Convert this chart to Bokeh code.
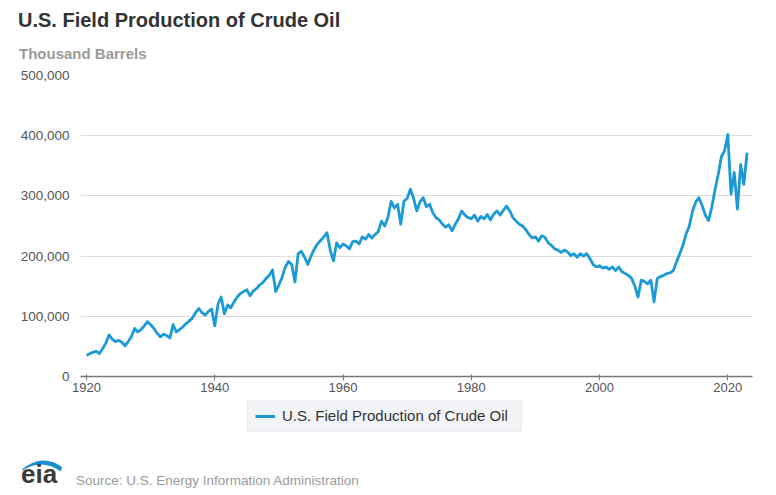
from bokeh.plotting import figure
from bokeh.models import (Range1d, FixedTicker, NumeralTickFormatter,
                          Legend, LegendItem, ColumnDataSource, Div)
from bokeh.layouts import column
from bokeh.embed import file_html
from bokeh.resources import INLINE

# ---------------- data ----------------
title_text = "U.S. Field Production of Crude Oil"
unit_text = "Thousand Barrels"
series_name = "U.S. Field Production of Crude Oil"
source_text = "Source: U.S. Energy Information Administration"
logo_text = "eia"

x_ticks = [1920, 1940, 1960, 1980, 2000, 2020]
y_ticks = [0, 100000, 200000, 300000, 400000, 500000]

start_year = 1920
step_years = 0.5  # one reading every half year

production = [
    # 1920s
    35000, 38000, 40000, 42000, 38000, 46000, 55000, 69000, 62000, 58000,
    60000, 57000, 51000, 58000, 66000, 80000, 74000, 78000, 84000, 91000,
    # 1930s
    86000, 80000, 72000, 66000, 70000, 68000, 64000, 86000, 74000, 78000,
    82000, 88000, 92000, 97000, 106000, 113000, 106000, 102000, 108000, 112000,
    # 1940s
    84000, 120000, 132000, 104000, 119000, 114000, 124000, 132000, 138000, 141000,
    144000, 134000, 142000, 146000, 152000, 156000, 163000, 168000, 177000, 141000,
    # 1950s
    152000, 165000, 182000, 191000, 186000, 157000, 204000, 208000, 198000, 186000,
    200000, 211000, 220000, 226000, 232000, 239000, 210000, 192000, 222000, 214000,
    # 1960s
    220000, 217000, 212000, 224000, 225000, 220000, 232000, 228000, 236000, 230000,
    236000, 241000, 258000, 250000, 264000, 291000, 280000, 286000, 253000, 291000,
    # 1970s
    296000, 311000, 296000, 275000, 290000, 297000, 282000, 286000, 272000, 264000,
    260000, 253000, 248000, 252000, 242000, 253000, 262000, 275000, 268000, 264000,
    # 1980s
    262000, 268000, 258000, 266000, 262000, 269000, 260000, 270000, 275000, 268000,
    276000, 283000, 275000, 264000, 258000, 253000, 250000, 244000, 236000, 230000,
    # 1990s
    232000, 225000, 234000, 231000, 222000, 218000, 212000, 210000, 206000, 210000,
    207000, 201000, 204000, 198000, 204000, 200000, 204000, 196000, 186000, 182000,
    # 2000s
    184000, 180000, 182000, 178000, 182000, 176000, 182000, 174000, 171000, 168000,
    163000, 150000, 132000, 160000, 158000, 154000, 160000, 124000, 163000, 166000,
    # 2010s
    168000, 171000, 172000, 176000, 190000, 204000, 218000, 237000, 250000, 275000,
    290000, 297000, 284000, 268000, 259000, 281000, 310000, 335000, 365000, 375000,
    # 2020s
    402000, 303000, 339000, 278000, 352000, 319000, 372000,
]
dates = [start_year + step_years * i for i in range(len(production))]

# ---------------- style ----------------
FONT = "Liberation Sans"
LINE_COLOR = "#1c9ad6"
W = 768
BL, BR = 80, 16          # left / right borders shared by the stacked figures

# ---------------- header ----------------
header = Div(width=W, height=62, margin=0, text=f"""<svg xmlns="http://www.w3.org/2000/svg" width="{W}" height="62" style="display:block"><text x="18" y="26.7" font-family="{FONT}" font-weight="bold" font-size="20px" fill="#333333">{title_text}</text><text x="19" y="59.3" font-family="{FONT}" font-weight="bold" font-size="15px" fill="#9a9a9a">{unit_text}</text></svg>""")

# ---------------- main chart ----------------
src = ColumnDataSource(data=dict(x=dates, y=production))

p = figure(width=W, height=338,
           x_range=Range1d(1919.06, 2023.85), y_range=Range1d(0, 500000),
           output_backend="svg", toolbar_location=None,
           min_border_left=BL, min_border_right=BR,
           min_border_top=13, min_border_bottom=24)
p.outline_line_color = None
p.background_fill_color = "white"
p.border_fill_color = "white"

p.line("x", "y", source=src, line_color=LINE_COLOR, line_width=2.8,
       line_join="round")

p.xaxis.ticker = FixedTicker(ticks=x_ticks)
p.xaxis.axis_line_color = "#777777"
p.xaxis.axis_line_width = 1.6
p.xaxis.major_tick_line_color = "#777777"
p.xaxis.major_tick_in = 2
p.xaxis.major_tick_out = 4
p.xaxis.minor_tick_line_color = None
p.xaxis.major_label_standoff = 2
p.xaxis.major_label_text_font = FONT
p.xaxis.major_label_text_font_size = "13px"
p.xaxis.major_label_text_color = "#555555"

p.yaxis.ticker = FixedTicker(ticks=y_ticks)
p.yaxis.formatter = NumeralTickFormatter(format="0,0")
p.yaxis.axis_line_color = None
p.yaxis.major_tick_line_color = None
p.yaxis.minor_tick_line_color = None
p.yaxis.major_label_standoff = 5
p.yaxis.major_label_text_font = FONT
p.yaxis.major_label_text_font_size = "13.5px"
p.yaxis.major_label_text_color = "#555555"

p.xgrid.grid_line_color = None
p.ygrid.grid_line_color = "#dcdcdc"
p.ygrid.grid_line_width = 1

# ---------------- legend strip ----------------
LH = 36
lf = figure(width=W, height=LH, x_range=Range1d(BL, W - BR), y_range=Range1d(LH, 0),
            output_backend="svg", toolbar_location=None,
            min_border_left=BL, min_border_right=BR,
            min_border_top=0, min_border_bottom=0,
            x_axis_location=None, y_axis_location=None)
lf.grid.visible = False
lf.outline_line_color = None
lf.background_fill_color = "white"
lf.border_fill_color = "white"

dummy = lf.line(x=[BL, BL + 1], y=[-50, -50], line_color=LINE_COLOR, line_width=3)
legend = Legend(items=[LegendItem(label=series_name, renderers=[dummy])],
                location=(247 - BL, 4), orientation="horizontal",
                padding=7, margin=0, glyph_width=20, glyph_height=14,
                label_height=14, label_standoff=7, label_width=232,
                label_text_font=FONT, label_text_font_size="15px",
                label_text_color="#333333",
                background_fill_color="#f2f3f7", background_fill_alpha=1.0,
                border_line_color="#e6e7ec", border_line_width=1)
lf.add_layout(legend, "center")

# ---------------- footer (logo + source) ----------------
footer = Div(width=W, height=58, margin=0, text=f"""<svg xmlns="http://www.w3.org/2000/svg" width="{W}" height="58" style="display:block"><path d="M 22 33.5 Q 42 17 62 31 L 61 35.5 Q 42 22 22 34.5 Z" fill="#1a8fd0"/><text x="21" y="47" font-family="{FONT}" font-weight="bold" font-size="26px" fill="#3a3a3a">{logo_text}</text><text x="76" y="49" font-family="{FONT}" font-size="13.5px" fill="#9a9a9a">{source_text}</text></svg>""")

layout = column(header, p, lf, footer, spacing=0)
open("out.html", "w").write(file_html(layout, INLINE))
